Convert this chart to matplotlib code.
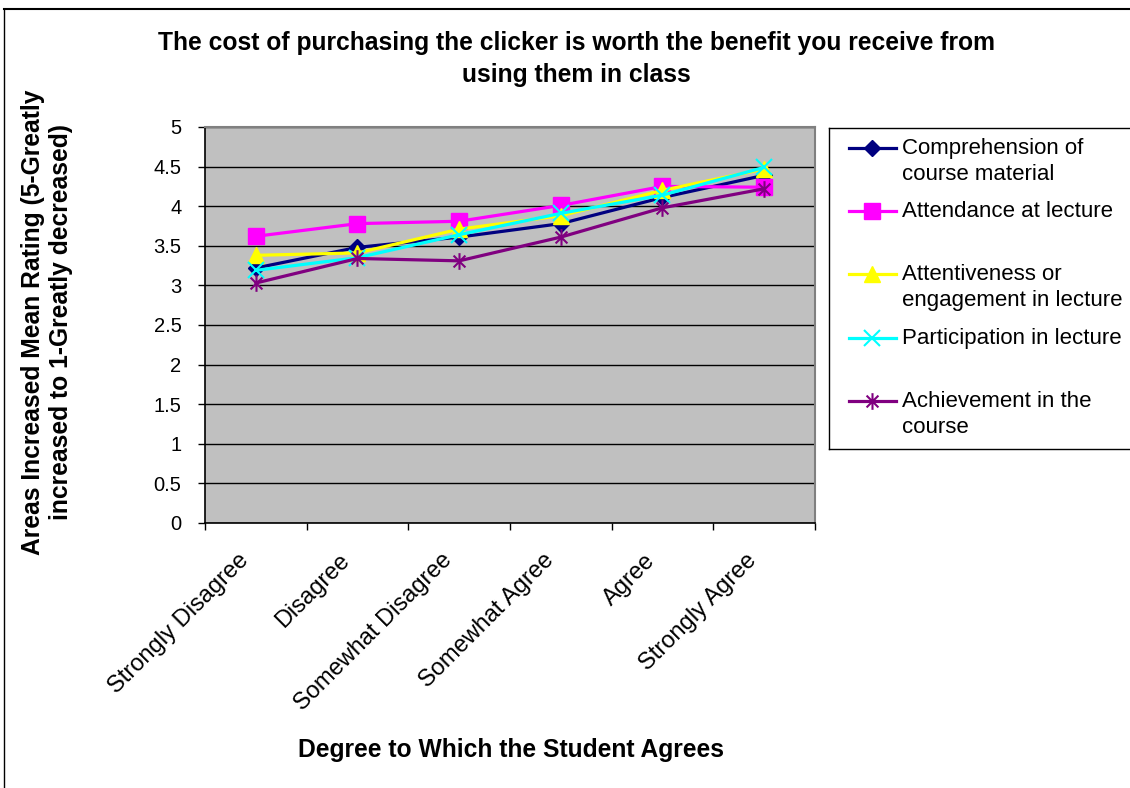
import matplotlib.pyplot as plt
from matplotlib.lines import Line2D
from matplotlib.path import Path
from matplotlib.transforms import ScaledTranslation

plt.rcParams['font.family'] = ['Liberation Sans', 'DejaVu Sans']

# Categories and series values
categories = ["Strongly Disagree", "Disagree", "Somewhat Disagree",
              "Somewhat Agree", "Agree", "Strongly Agree"]
comprehension = [3.22, 3.48, 3.61, 3.78, 4.11, 4.39]
attendance = [3.62, 3.78, 3.81, 4.01, 4.25, 4.24]
attentiveness = [3.38, 3.41, 3.71, 3.88, 4.20, 4.47]
participation = [3.19, 3.35, 3.64, 3.91, 4.14, 4.49]
achievement = [3.03, 3.34, 3.31, 3.61, 3.98, 4.22]

series_labels = ["Comprehension of\ncourse material", "Attendance at lecture",
                 "Attentiveness or\nengagement in lecture", "Participation in lecture",
                 "Achievement in the\ncourse"]
y_ticks = [0, 0.5, 1, 1.5, 2, 2.5, 3, 3.5, 4, 4.5, 5]

# Excel-style star: a vertical bar plus an X
star = Path([(0, -1), (0, 1), (-0.71, -0.71), (0.71, 0.71), (-0.71, 0.71), (0.71, -0.71)],
            [Path.MOVETO, Path.LINETO] * 3)

styles = [
    dict(color="#000080", marker="D", markersize=8.5),
    dict(color="#FF00FF", marker="s", markersize=11),
    dict(color="#FFFF00", marker="^", markersize=12),
    dict(color="#00FFFF", marker="x", markersize=11, markeredgewidth=1.5),
    dict(color="#800080", marker=star, markersize=12, markeredgewidth=1.5),
]

W, H = 1130, 788
fig = plt.figure(figsize=(W / 100, H / 100), dpi=100)
ax = fig.add_axes([205 / W, 1 - 523 / H, 610 / W, 396 / H])
ax.set_facecolor("#C0C0C0")

x = list(range(len(categories)))
all_series = [comprehension, attendance, attentiveness, participation, achievement]
for vals, st in zip(all_series, styles):
    ax.plot(x, vals, linewidth=2.3, zorder=3, **st)

ax.set_xlim(-0.5, len(categories) - 0.5)
ax.set_ylim(0, 5)
ax.set_yticks(y_ticks)
ax.set_yticklabels([f"{t:g}" for t in y_ticks], fontsize=14.5)
ax.yaxis.grid(True, color="black", linewidth=1)
ax.set_axisbelow(True)

ax.set_xticks(x)
ax.set_xticklabels(categories, rotation=45, ha="right", va="top", fontsize=17)
ax.tick_params(axis="x", length=0, pad=19)
shift = ScaledTranslation(-3 / 100, 0, fig.dpi_scale_trans)
for lbl in ax.get_xticklabels():
    lbl.set_transform(lbl.get_transform() + shift)
ax.set_xticks([i - 0.5 for i in range(len(categories) + 1)], minor=True)
ax.tick_params(axis="x", which="minor", length=5, width=1, direction="out")
ax.tick_params(axis="y", length=5, width=1, direction="out", pad=12)

for side in ["top", "right"]:
    ax.spines[side].set_color("#808080")
    ax.spines[side].set_linewidth(1.5)
for side in ["left", "bottom"]:
    ax.spines[side].set_color("black")
    ax.spines[side].set_linewidth(1.2)

ax.set_xlabel("Degree to Which the Student Agrees", fontsize=17.7, fontweight="bold",
              va="center")
ax.xaxis.set_label_coords((511 - 205) / 610, (523 - 750) / 396)
ax.set_ylabel("Areas Increased Mean Rating (5-Greatly\nincreased to 1-Greatly decreased)",
              fontsize=17.7, fontweight="bold", va="center", ha="center", linespacing=1.25)
ax.yaxis.set_label_coords((47 - 205) / 610, (523 - 322) / 396)

fig.text(576 / W, 1 - 59 / H,
         "The cost of purchasing the clicker is worth the benefit you receive from\nusing them in class",
         ha="center", va="center", fontsize=17.7, fontweight="bold", linespacing=1.4)

# Legend drawn by hand so single-line entries sit at the top of their slot
lx0, ly0, lx1, ly1 = 829, 128, 1135, 449
lax = fig.add_axes([lx0 / W, 1 - ly1 / H, (lx1 - lx0) / W, (ly1 - ly0) / H])
lax.set_xlim(lx0, lx1)
lax.set_ylim(ly1, ly0)
lax.set_xticks([])
lax.set_yticks([])
for sp in lax.spines.values():
    sp.set_color("black")
    sp.set_linewidth(1)
entry_tops = [148, 211, 274, 338, 401]
for top, label, st in zip(entry_tops, series_labels, styles):
    lax.add_line(Line2D([849, 896], [top, top], linewidth=2.3, color=st["color"]))
    lax.add_line(Line2D([872], [top], linestyle="none", **st))
    lax.text(902, top - 10, label, ha="left", va="top", fontsize=16, linespacing=1.29)

# Outer chart border
fig.add_artist(Line2D([4 / W, 4 / W], [0, 1 - 9 / H], color="black", linewidth=1,
                      transform=fig.transFigure))
fig.add_artist(Line2D([4 / W, 1], [1 - 9 / H, 1 - 9 / H], color="black", linewidth=1.5,
                      transform=fig.transFigure))

fig.savefig("out.png", dpi=100)
